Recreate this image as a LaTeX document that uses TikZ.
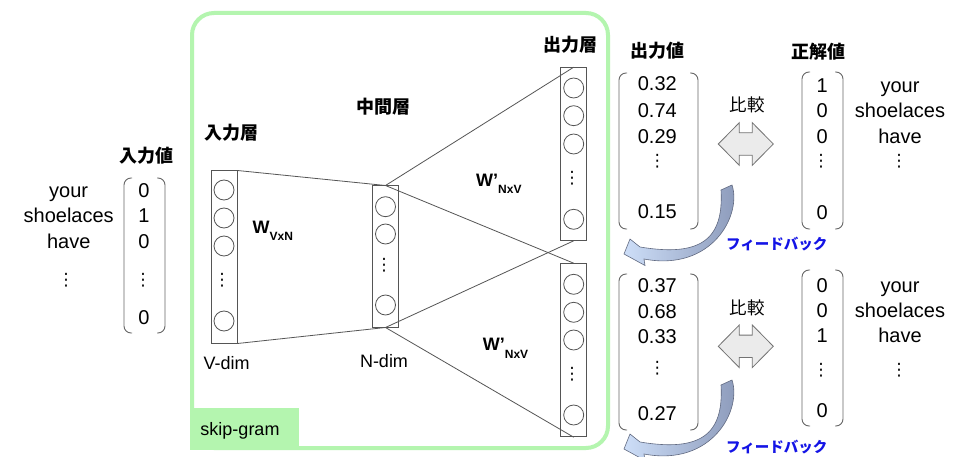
\documentclass[tikz,border=0pt]{standalone}
\usepackage{fontspec}
\setmainfont{Liberation Sans}
\newfontfamily\jp{Noto Sans CJK JP}
\newfontfamily\dv{DejaVu Sans}
\definecolor{gboxc}{RGB}{180,245,175}
\definecolor{linec}{RGB}{85,85,85}
\definecolor{fbblue}{RGB}{20,20,230}
\definecolor{arrL}{RGB}{205,222,248}
\definecolor{arrR}{RGB}{138,152,184}
\tikzset{
 num/.style={inner sep=0, font=\fontsize{20}{24}\selectfont, text height=14.3pt, text depth=0pt},
 hdr/.style={inner sep=0, font=\jp\bfseries\fontsize{18}{22}\selectfont, text height=13pt, text depth=0pt},
 lbl/.style={inner sep=0, font=\fontsize{18}{22}\selectfont, text height=13pt, text depth=0pt},
 cmptext/.style={inner sep=0, font=\jp\fontsize{17.5}{20}\selectfont, text height=13pt, text depth=0pt},
 vd/.style={inner sep=0, font=\dv\fontsize{17}{18}\selectfont},
 layerbox/.style={draw=linec, line width=1pt, inner sep=0, minimum width=26pt},
 unit/.style={circle, draw=linec, line width=0.8pt, minimum size=20pt, inner sep=0},
 conn/.style={draw=linec, line width=0.8pt},
 brk/.style={draw=black!60, line width=0.9pt, rounded corners=7pt},
 cmp/.style={draw=black!55, fill=black!8, line width=0.8pt},
 fbarrow/.style={draw=arrR!70!black, line width=0.6pt, left color=arrL, right color=arrR},
 fbtext/.style={inner sep=0, font=\jp\bfseries\fontsize{14.5}{16}\selectfont, text=fbblue},
 wl/.style={inner sep=0, anchor=base west, font=\bfseries\fontsize{18}{20}\selectfont},
}
\newcommand{\mybrk}[4]{%
 \draw[brk] (#1+8,#3) -- (#1,#3) -- (#1,#4) -- (#1+8,#4);
 \draw[brk] (#2-8,#3) -- (#2,#3) -- (#2,#4) -- (#2-8,#4);}
\newcommand{\subl}[1]{\raisebox{-7.6pt}{\fontsize{12}{12}\selectfont #1}}
\begin{document}
\begin{tikzpicture}[x=1pt,y=-1pt]
\path[use as bounding box, fill=white] (0,0) rectangle (959,457);

% skip-gram frame
\draw[gboxc, line width=4pt, rounded corners=22pt] (192,13) rectangle (608,448);
\fill[gboxc] (190,408) rectangle (299,450);
\node[lbl] (sg) at (240,429) {skip-gram};

% layers
\node[layerbox, minimum height=172pt] (inbox) at (224,257) {};
\node[layerbox, minimum height=141pt, minimum width=25.6pt] (midbox) at (385.5,256.5) {};
\node[layerbox, minimum height=172.6pt] (out1) at (573.7,154) {};
\node[layerbox, minimum height=173pt] (out2) at (573.7,350.2) {};

\node[unit] (i1) at (224,190) {};
\node[unit] (i2) at (224,218) {};
\node[unit] (i3) at (224,246) {};
\node[vd] (id) at (222,280) {⋮};
\node[unit] (i4) at (224,321) {};

\node[unit] (m1) at (385.5,206.7) {};
\node[unit] (m2) at (385.5,234) {};
\node[vd] (md) at (384,265) {⋮};
\node[unit] (m3) at (385.5,305) {};

\node[unit] (a1) at (573.7,88) {};
\node[unit] (a2) at (573.7,115.7) {};
\node[unit] (a3) at (573.7,144) {};
\node[vd] (ad) at (572,178) {⋮};
\node[unit] (a4) at (573.7,219.3) {};

\node[unit] (b1) at (573.7,284.3) {};
\node[unit] (b2) at (573.7,312.3) {};
\node[unit] (b3) at (573.7,340) {};
\node[vd] (bd) at (572,374) {⋮};
\node[unit] (b4) at (573.7,415) {};

\draw[conn] (inbox.north east) -- (midbox.north);
\draw[conn] (inbox.south east) -- (midbox.south);
\draw[conn] (midbox.north) -- (out1.north);
\draw[conn] (midbox.north) -- (out2.north);
\draw[conn] (midbox.south) -- (out1.south);
\draw[conn] (midbox.south) -- (out2.south);

% layer labels
\node[hdr] (h1) at (231.7,133.3) {入力層};
\node[hdr] (h2) at (383,107) {中間層};
\node[hdr] (h3) at (570.7,45) {出力層};
\node[lbl] (vdim) at (226.7,363.3) {V-dim};
\node[lbl] (ndim) at (384,361) {N-dim};
\node[wl] (w1) at (252.5,233.4) {W\subl{VxN}};
\node[wl] (w2) at (476,186.4) {W’\subl{NxV}};
\node[wl] (w3) at (482.7,350.4) {W’\subl{NxV}};

% input vector
\node[hdr] (h4) at (146.7,156) {入力値};
\mybrk{124}{165}{178}{333}
\node[num] (x1) at (144,190.7) {0};
\node[num] (x2) at (144,215.7) {1};
\node[num] (x3) at (144,241) {0};
\node[vd] (x4) at (143,280) {⋮};
\node[num] (x5) at (144,317.3) {0};
\node[num] (y1) at (68.7,190.7) {your};
\node[num] (y2) at (68.7,215.7) {shoelaces};
\node[num] (y3) at (68.7,241) {have};
\node[vd] (y4) at (66,280) {⋮};

% output values top
\node[hdr] (h5) at (657,50.7) {出力値};
\mybrk{619}{698}{73}{229}
\node[num] (p1) at (657.3,83.3) {0.32};
\node[num] (p2) at (657.3,110) {0.74};
\node[num] (p3) at (657.3,136) {0.29};
\node[vd] (p4) at (657.3,161.7) {⋮};
\node[num] (p5) at (657.3,211.7) {0.15};

% correct values top
\node[hdr] (h6) at (818.3,51.7) {正解値};
\mybrk{802}{843}{72}{229}
\node[num] (c1) at (822.3,85) {1};
\node[num] (c2) at (822.3,110) {0};
\node[num] (c3) at (822.3,136) {0};
\node[vd] (c4) at (821,161.7) {⋮};
\node[num] (c5) at (822.3,212.7) {0};
\node[num] (d1) at (900,85) {your};
\node[num] (d2) at (900,110) {shoelaces};
\node[num] (d3) at (900,136) {have};
\node[vd] (d4) at (899,161.7) {⋮};

% output values bottom
\mybrk{619}{698}{274}{430}
\node[num] (q1) at (657.3,285) {0.37};
\node[num] (q2) at (657.3,311) {0.68};
\node[num] (q3) at (657.3,336.7) {0.33};
\node[vd] (q4) at (657.3,368.3) {⋮};
\node[num] (q5) at (657.3,413.3) {0.27};

% correct values bottom
\mybrk{802}{843}{270}{426}
\node[num] (e1) at (822.3,285) {0};
\node[num] (e2) at (822.3,310) {0};
\node[num] (e3) at (822.3,335) {1};
\node[vd] (e4) at (821,370) {⋮};
\node[num] (e5) at (822.3,410) {0};
\node[num] (f1) at (900,285) {your};
\node[num] (f2) at (900,310) {shoelaces};
\node[num] (f3) at (900,335) {have};
\node[vd] (f4) at (899,370) {⋮};

% compare arrows
\foreach \cy in {144, 346.3}{
 \draw[cmp] (718.3,\cy) -- (739.3,\cy-21.3) -- (739.3,\cy-11.2) -- (752.3,\cy-11.2) -- (752.3,\cy-21.3)
   -- (773.3,\cy) -- (752.3,\cy+21.3) -- (752.3,\cy+11.2) -- (739.3,\cy+11.2) -- (739.3,\cy+21.3) -- cycle;
}
\node[cmptext] (cm1) at (747.3,105) {比較};
\node[cmptext] (cm2) at (747.3,307.7) {比較};

% feedback arrows
\foreach \dy in {0,195}{
 \begin{scope}[shift={(0,\dy)}]
 \shade[fbarrow] (732,185) .. controls (742,215) and (712,272) .. (644,259) -- (645,265.5) -- (624,254)
   -- (630,239) -- (640,247) .. controls (700,257) and (724,240) .. (721,190) -- cycle;
 \end{scope}
}
\node[fbtext] (fb1) at (776.7,244.3) {フィードバック};
\node[fbtext] (fb2) at (776.7,446.7) {フィードバック};
\end{tikzpicture}
\end{document}
